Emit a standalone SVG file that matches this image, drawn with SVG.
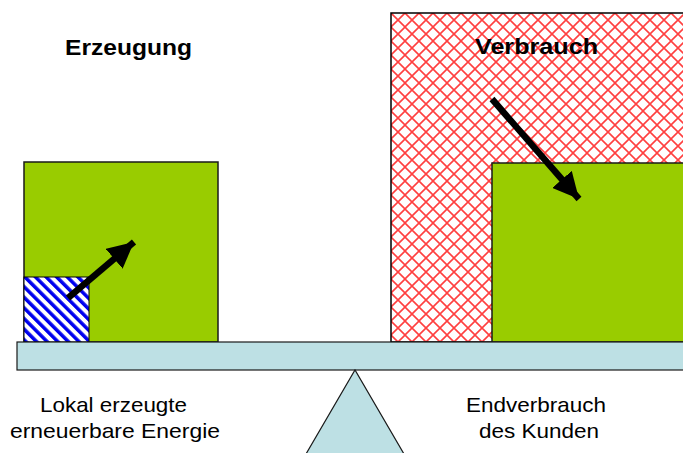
<svg xmlns="http://www.w3.org/2000/svg" width="683" height="453" viewBox="0 0 683 453">
<defs>
<style>
.green{fill:#99CC00;stroke:#1a1a1a;stroke-width:1.5}
.lbl{font-family:"Liberation Sans",Arial,sans-serif;font-size:21px;fill:#000;text-anchor:middle}
.ttl{font-family:"Liberation Sans",Arial,sans-serif;font-size:22px;font-weight:bold;fill:#000;text-anchor:middle}
.arrow{stroke:#000;stroke-width:6.5;fill:none}
</style>
<pattern id="stripes" width="7.5" height="7.5" patternUnits="userSpaceOnUse" patternTransform="rotate(-45)">
<rect width="7.5" height="7.5" fill="#fff"/>
<rect width="3.5" height="7.5" fill="#0000EE"/>
</pattern>
<pattern id="grid" width="14" height="14" patternUnits="userSpaceOnUse" x="391" y="13">
<rect width="14" height="14" fill="#fff"/>
<path d="M0 0L14 14M14 0L0 14" stroke="#FF4040" stroke-width="1.6"/>
</pattern>
<marker id="head" markerUnits="userSpaceOnUse" markerWidth="28" markerHeight="26" refX="26" refY="13" orient="auto">
<path d="M0 0L26 13L0 26Z" fill="#000"/>
</marker>
</defs>
<g id="verbrauch-area">
<rect x="391" y="13" width="300" height="329" fill="url(#grid)" stroke="#000" stroke-width="1.5"/>
</g>
<g id="erzeugung-box">
<rect class="green" x="24" y="162" width="194" height="180"/>
</g>
<g id="lokal-box">
<rect x="24" y="277" width="65" height="65" fill="url(#stripes)" stroke="#000" stroke-width="1"/>
</g>
<g id="endverbrauch-box">
<rect class="green" x="492" y="163" width="200" height="179"/>
</g>
<g id="beam">
<rect x="17" y="342" width="680" height="28" fill="#BDE0E4" stroke="#1a1a1a" stroke-width="1.2"/>
</g>
<g id="fulcrum">
<path d="M306 454L355 370L404 454" fill="#BDE0E4" stroke="#1a1a1a" stroke-width="1.2"/>
</g>
<g id="connectors">
<line class="arrow" x1="68" y1="298" x2="134" y2="242" marker-end="url(#head)"/>
<line class="arrow" x1="492" y1="99" x2="579" y2="199" marker-end="url(#head)"/>
</g>
<g id="labels">
<text class="ttl" x="128.5" y="55" textLength="127" lengthAdjust="spacingAndGlyphs">Erzeugung</text>
<text class="ttl" x="536.5" y="54" textLength="123" lengthAdjust="spacingAndGlyphs">Verbrauch</text>
<text class="lbl" x="113.5" y="412" textLength="147" lengthAdjust="spacingAndGlyphs">Lokal erzeugte</text>
<text class="lbl" x="115" y="438" textLength="210" lengthAdjust="spacingAndGlyphs">erneuerbare Energie</text>
<text class="lbl" x="536" y="412" textLength="140" lengthAdjust="spacingAndGlyphs">Endverbrauch</text>
<text class="lbl" x="539" y="438" textLength="120" lengthAdjust="spacingAndGlyphs">des Kunden</text>
</g>
</svg>
